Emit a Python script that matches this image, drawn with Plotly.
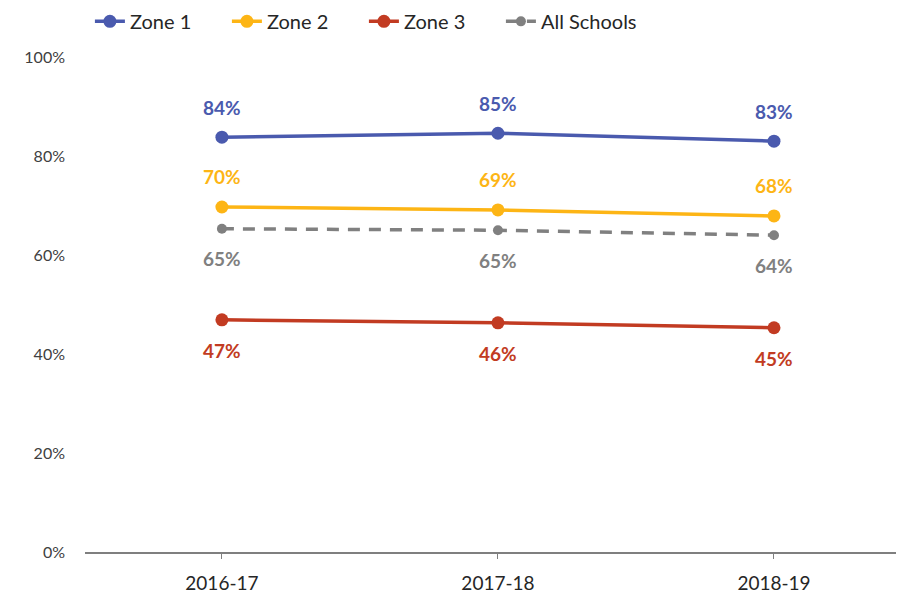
import plotly.graph_objects as go

years = ["2016-17", "2017-18", "2018-19"]
zone1 = [0.838, 0.846, 0.830]
zone2 = [0.697, 0.691, 0.679]
zone3 = [0.469, 0.463, 0.453]
all_schools = [0.653, 0.650, 0.640]

series = [
    ("Zone 1", zone1, "#4A5AAE", "solid", 13, 30),
    ("Zone 2", zone2, "#FDB515", "solid", 13, 30),
    ("Zone 3", zone3, "#C23B22", "solid", 13, -31),
    ("All Schools", all_schools, "#808080", "12px,9px", 10, -30),
]

fig = go.Figure()
annotations = []
for name, vals, color, dash, msize, shift in series:
    fig.add_trace(go.Scatter(
        x=years, y=vals, name=name, mode="lines+markers",
        line=dict(color=color, width=3.5, dash=dash),
        marker=dict(color=color, size=msize),
    ))
    for xv, yv in zip(years, vals):
        annotations.append(dict(
            x=xv, y=yv, text=f"<b>{yv*100:.0f}%</b>", showarrow=False,
            yshift=shift, font=dict(family="Lato", size=19, color=color),
        ))

fig.update_layout(
    width=896, height=587,
    margin=dict(l=77, r=0, t=49, b=43, autoexpand=False),
    plot_bgcolor="white", paper_bgcolor="white",
    font=dict(family="Lato", color="#404040"),
    showlegend=True,
    legend=dict(orientation="h", x=0.006, xref="paper", y=1.072, yanchor="middle",
                font=dict(size=20, color="#262626"),
                traceorder="normal", entrywidth=92, entrywidthmode="pixels"),
    annotations=annotations,
    xaxis=dict(
        range=[-0.496, 2.471], showline=True, linecolor="#7f7f7f", linewidth=1.5,
        ticks="outside", ticklen=5, tickcolor="#7f7f7f", showgrid=False,
        tickfont=dict(size=19, color="#262626"), zeroline=False,
        ticklabelstandoff=8,
    ),
    yaxis=dict(
        range=[0, 1], tickvals=[0, 0.2, 0.4, 0.6, 0.8, 1.0], tickformat=".0%",
        showgrid=False, showline=False, zeroline=False,
        tickfont=dict(size=16, color="#404040"), ticklabelstandoff=19,
    ),
)

fig.write_html("out.html")
